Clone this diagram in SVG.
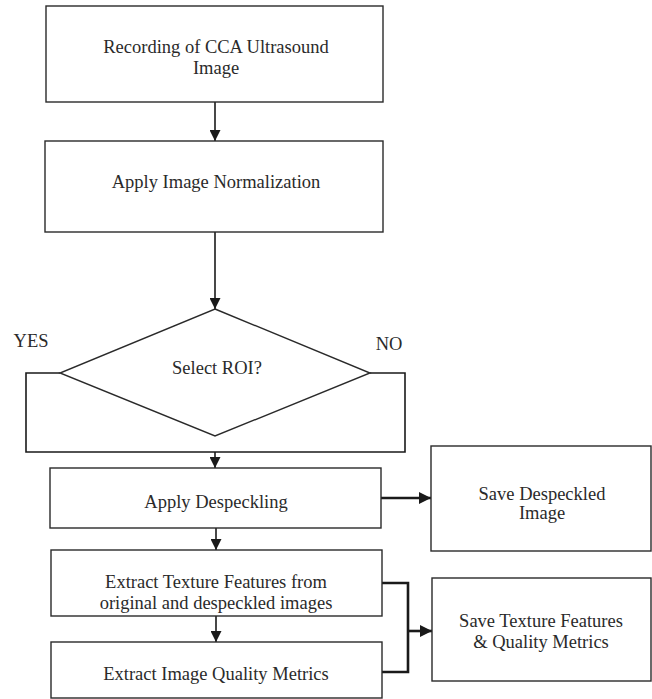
<svg xmlns="http://www.w3.org/2000/svg" width="652" height="699" viewBox="0 0 652 699">
<defs>
<marker id="ah" markerWidth="11" markerHeight="11" refX="11" refY="5.5" orient="auto" markerUnits="userSpaceOnUse">
<path d="M0,0 L11,5.5 L0,11 Z" fill="#1a1a1a"/>
</marker>
<marker id="ahb" markerWidth="12" markerHeight="12" refX="12" refY="6" orient="auto" markerUnits="userSpaceOnUse">
<path d="M0,0 L12,6 L0,12 Z" fill="#1a1a1a"/>
</marker>
</defs>
<style>
.box{fill:#fff;stroke:#2a2a2a;stroke-width:1.4}
.t{font-family:"Liberation Serif","Times New Roman",serif;font-size:18.5px;fill:#2a2a2a;text-anchor:middle}
.c{fill:none;stroke:#1a1a1a;stroke-width:1.6}
.cb{fill:none;stroke:#1a1a1a;stroke-width:2.6}
</style>
<rect width="652" height="699" fill="#fff"/>
<g id="connectors">
<line class="c" x1="215" y1="102" x2="215" y2="141" marker-end="url(#ah)"/>
<line class="c" x1="215" y1="232" x2="215" y2="309" marker-end="url(#ah)"/>
<polyline class="c" points="60,373 26,373 26,452 405,452 405,373 370,373"/>
<line class="c" x1="215" y1="452" x2="215" y2="468" marker-end="url(#ah)"/>
<line class="c" x1="216" y1="528" x2="216" y2="550" marker-end="url(#ah)"/>
<line class="c" x1="216" y1="616" x2="216" y2="642" marker-end="url(#ah)"/>
<line class="cb" x1="381" y1="498" x2="431" y2="498" marker-end="url(#ahb)"/>
<polyline class="cb" points="382,583 408,583 408,672 382,672"/>
<line class="cb" x1="408" y1="631" x2="432" y2="631" marker-end="url(#ahb)"/>
<text class="t" x="31" y="347">YES</text>
<text class="t" x="389" y="350">NO</text>
</g>
<g id="n1">
<rect class="box" x="46" y="6" width="337" height="96"/>
<text class="t" x="216" y="53">Recording of CCA Ultrasound</text>
<text class="t" x="216" y="74">Image</text>
</g>
<g id="n2">
<rect class="box" x="45" y="141" width="338" height="91"/>
<text class="t" x="216" y="188">Apply Image Normalization</text>
</g>
<g id="n3">
<polygon class="box" points="215,309 370,373 215,436 60,373"/>
<text class="t" x="217" y="374">Select ROI?</text>
</g>
<g id="n4">
<rect class="box" x="50" y="468" width="331" height="60"/>
<text class="t" x="216" y="508">Apply Despeckling</text>
</g>
<g id="n5">
<rect class="box" x="51" y="550" width="331" height="66"/>
<text class="t" x="216" y="588">Extract Texture Features from</text>
<text class="t" x="216" y="609">original and despeckled images</text>
</g>
<g id="n6">
<rect class="box" x="51" y="642" width="331" height="56"/>
<text class="t" x="216" y="680">Extract Image Quality Metrics</text>
</g>
<g id="n7">
<rect class="box" x="431" y="446" width="220" height="105"/>
<text class="t" x="542" y="500">Save Despeckled</text>
<text class="t" x="542" y="519">Image</text>
</g>
<g id="n8">
<rect class="box" x="432" y="578" width="219" height="103"/>
<text class="t" x="541" y="627">Save Texture Features</text>
<text class="t" x="541" y="648">&amp; Quality Metrics</text>
</g>
</svg>
